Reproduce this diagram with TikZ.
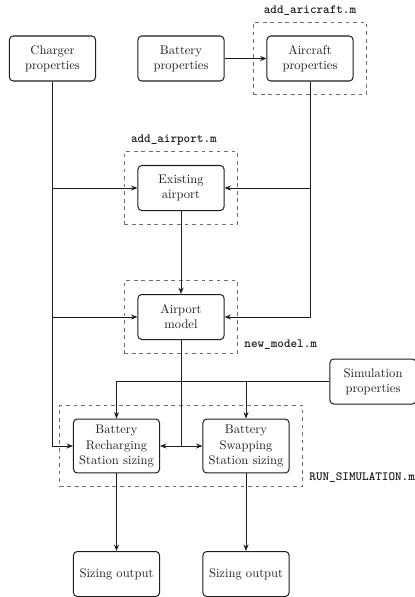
\documentclass[tikz,border=0pt]{standalone}
\usepackage{fontspec}
\usepackage{tikz}
\usetikzlibrary{arrows.meta,positioning,fit}
\newfontfamily\codefont{lmmonolt10-bold.otf}
\definecolor{ink}{RGB}{30,30,30}
\definecolor{dash}{RGB}{110,110,110}
\tikzset{
  >={Stealth[length=1.8mm,width=1.4mm]},
  box/.style={draw=ink,thick,rounded corners=3pt,fill=white,
    minimum width=2.41cm,minimum height=1.26cm,align=center,text=ink},
  tallbox/.style={box,minimum height=1.51cm},
  group/.style={draw=dash,dashed,thick,inner sep=0.37cm},
  fname/.style={font=\codefont,text=ink},
  flow/.style={->,thick,draw=ink},
  wire/.style={thick,draw=ink},
}

\begin{document}
\begin{tikzpicture}[x=0.028cm,y=-0.028cm]
    \useasboundingbox (0,0) rectangle (414,597);
    % inputs
    \node[box] (charger) at (52.5,58.5) {Charger\\properties};
    \node[box] (battery) at (181,58.5) {Battery\\properties};
    \node[box] (aircraft) at (310,58.5) {Aircraft\\properties};
    \node[box] (sim) at (373,381.5) {Simulation\\properties};
    % airport
    \node[box] (existing) at (181,188) {Existing\\airport};
    \node[box] (model) at (181,317) {Airport\\model};
    % sizing
    \node[tallbox] (recharging) at (116.5,446) {Battery\\Recharging\\Station sizing};
    \node[tallbox] (swapping) at (246,446) {Battery\\Swapping\\Station sizing};
    \node[box] (out1) at (116.5,574) {Sizing output};
    \node[box] (out2) at (246,574) {Sizing output};
    % script groups
    \node[group,fit=(aircraft)] (gaircraft) {};
    \node[group,fit=(existing)] (gairport) {};
    \node[group,fit=(model)] (gmodel) {};
    \node[group,fit=(recharging) (swapping)] (gsim) {};
    \node[fname,anchor=south] at ([yshift=0.5mm]gaircraft.north) {add\_aricraft.m};
    \node[fname,anchor=south] at ([xshift=-2mm,yshift=0.5mm]gairport.north) {add\_airport.m};
    \node[fname,anchor=south west] at ([xshift=0.5mm]gmodel.south east) {new\_model.m};
    \node[fname,anchor=south west] at ([xshift=0.5mm]gsim.south east) {RUN\_SIMULATION.m};
    % connectors
    \draw[flow] (battery) -- (aircraft);
    \draw[flow] (aircraft) -- (aircraft |- model) -- (model);
    \draw[flow] (aircraft |- existing) -- (existing);
    \draw[flow] (charger) |- (recharging);
    \draw[flow] (charger |- existing) -- (existing);
    \draw[flow] (charger |- model) -- (model);
    \draw[flow] (existing) -- (model);
    \coordinate (split) at (model |- recharging);
    \draw[wire] (model) -- (split);
    \draw[flow] (split) -- (recharging);
    \draw[flow] (split) -- (swapping);
    \draw[flow] (sim) -| (recharging);
    \draw[flow] (swapping |- sim) -- (swapping);
    \draw[flow] (recharging) -- (out1);
    \draw[flow] (swapping) -- (out2);
\end{tikzpicture}
\end{document}
